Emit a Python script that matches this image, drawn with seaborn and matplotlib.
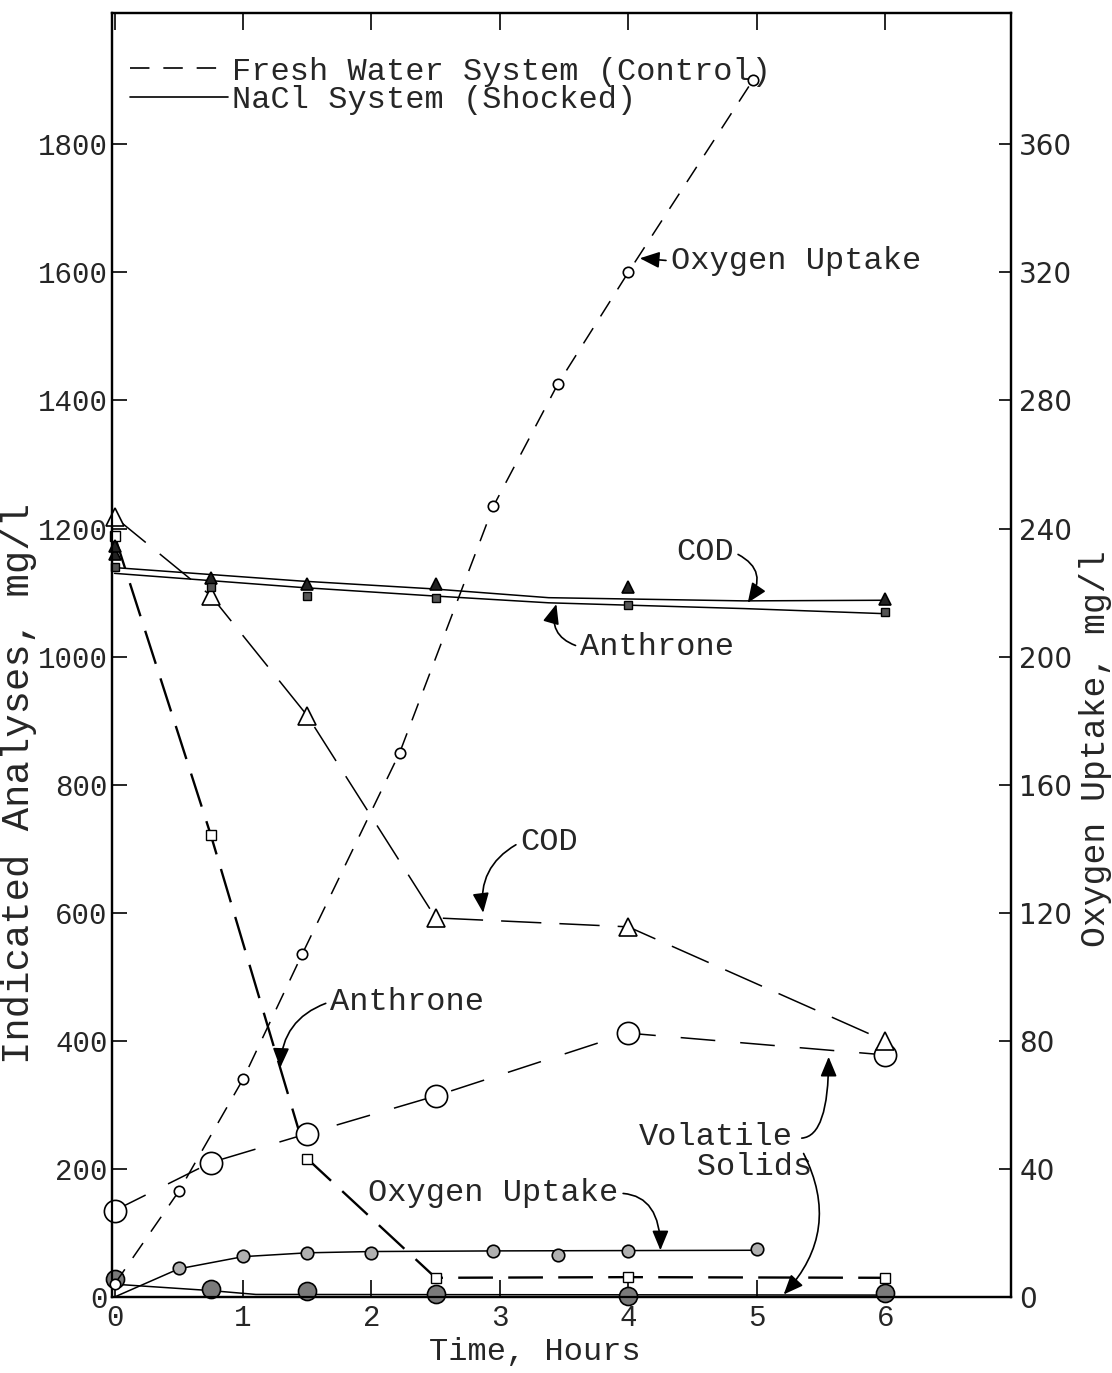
import matplotlib
matplotlib.use("Agg")
import matplotlib.pyplot as plt
from matplotlib.lines import Line2D
import seaborn as sns

# ---------------- data ----------------
x_ticks = [0, 1, 2, 3, 4, 5, 6]
left_ticks = [0, 200, 400, 600, 800, 1000, 1200, 1400, 1600, 1800]
right_ticks = [0, 40, 80, 120, 160, 200, 240, 280, 320, 360]

# Fresh water system (control) -- dashed lines, open markers
fw_o2_t = [0.0, 0.5, 1.0, 1.46, 2.22, 2.95, 3.45, 4.0, 4.97]
fw_o2 = [4, 33, 68, 107, 170, 247, 285, 320, 380]          # right axis, mg/l
fw_cod_t = [0.0, 0.75, 1.5, 2.5, 4.0, 6.0]
fw_cod = [1218, 1095, 908, 592, 578, 400]
fw_anth_t = [0.0, 0.75, 1.5, 2.5, 4.0, 6.0]
fw_anth = [1189, 721, 216, 30, 31, 30]
fw_vs_t = [0.0, 0.75, 1.5, 2.5, 4.0, 6.0]
fw_vs = [135, 210, 255, 314, 412, 378]

# NaCl system (shocked) -- solid lines, filled markers
nacl_cod_t = [0.0, 0.0, 0.75, 1.5, 2.5, 4.0, 6.0]
nacl_cod = [1160, 1172, 1123, 1114, 1114, 1108, 1090]
nacl_cod_fit_t = [0.0, 1.45, 2.46, 3.38, 4.9, 6.0]
nacl_cod_fit = [1139, 1118, 1106, 1092, 1087, 1088]
nacl_anth_t = [0.0, 0.75, 1.5, 2.5, 4.0, 6.0]
nacl_anth = [1140, 1109, 1095, 1092, 1080, 1069]
nacl_anth_fit_t = [0.0, 1.45, 2.46, 3.38, 4.9, 6.0]
nacl_anth_fit = [1130, 1108, 1095, 1084, 1075, 1067]
nacl_o2_t = [0.5, 1.0, 1.5, 2.0, 2.95, 3.45, 4.0, 5.0]
nacl_o2 = [9.0, 12.7, 13.8, 13.8, 14.5, 13.2, 14.5, 14.9]   # right axis
nacl_o2_fit_t = [0.0, 0.5, 1.0, 1.5, 2.0, 3.0, 4.0, 5.0]
nacl_o2_fit = [0.0, 8.8, 12.6, 13.8, 14.2, 14.4, 14.5, 14.6]
nacl_vs_t = [0.0, 0.75, 1.5, 2.5, 4.0, 6.0]
nacl_vs = [28, 12, 10, 5, 2, 6]
nacl_vs_fit_t = [0.0, 0.75, 1.1, 6.0]
nacl_vs_fit = [20, 10, 4, 3]

# ---------------- style ----------------
sns.set_style("ticks")
MONO = ["Liberation Mono", "DejaVu Sans Mono"]
plt.rcParams["font.family"] = MONO
plt.rcParams["lines.scale_dashes"] = False
plt.rcParams["axes.linewidth"] = 1.6

fig = plt.figure(figsize=(11.12, 13.73), dpi=100)
fig.patch.set_facecolor("white")
ax = fig.add_axes([112 / 1112, 1 - 1297 / 1373, 899 / 1112, 1284 / 1373])
ax2 = ax.twinx()


def draw_line(axis, t, v, dash, lw=1.1):
    sns.lineplot(x=t, y=v, ax=axis, color="black", linewidth=lw,
                 linestyle=dash, estimator=None, sort=False, zorder=2)


def draw_marks(axis, t, v, marker, ms, fc, ew=1.2):
    sns.lineplot(x=t, y=v, ax=axis, color="black", linestyle="none",
                 marker=marker, markersize=ms, markerfacecolor=fc,
                 markeredgecolor="black", markeredgewidth=ew,
                 estimator=None, sort=False, clip_on=False, zorder=4)


# fresh water (dashed)
draw_line(ax, fw_cod_t, fw_cod, (0, (29, 13)))
draw_line(ax, fw_anth_t, fw_anth, (0, (25, 11)), lw=1.7)
draw_line(ax, fw_vs_t, fw_vs, (0, (25, 18)))
draw_line(ax2, fw_o2_t, fw_o2, (0, (13, 10)))
# NaCl (solid)
draw_line(ax, nacl_cod_fit_t, nacl_cod_fit, "-")
draw_line(ax, nacl_anth_fit_t, nacl_anth_fit, "-")
draw_line(ax, nacl_vs_fit_t, nacl_vs_fit, "-")
draw_line(ax2, nacl_o2_fit_t, nacl_o2_fit, "-")

# markers
draw_marks(ax, fw_vs_t, fw_vs, "o", 16, "white")
draw_marks(ax, fw_cod_t, fw_cod, "^", 13, "white")
draw_marks(ax, fw_anth_t, fw_anth, "s", 6.5, "white", ew=1.0)
draw_marks(ax, nacl_vs_t, nacl_vs, "o", 13, "#7a7a7a")
draw_marks(ax, nacl_cod_t, nacl_cod, "^", 9, "#222222")
draw_marks(ax, nacl_anth_t, nacl_anth, "s", 6, "#555555", ew=1.0)
draw_marks(ax2, fw_o2_t, fw_o2, "o", 7.5, "white")
draw_marks(ax2, nacl_o2_t, nacl_o2, "o", 9, "#b0b0b0")

# ---------------- axes ----------------
ax.set_xlim(-0.02, 6.98)
ax.set_ylim(0, 2005)
ax2.set_ylim(0, 401)
ax.set_xticks(x_ticks)
ax.set_yticks(left_ticks)
ax2.set_yticks(right_ticks)
ax.tick_params(axis="y", direction="in", length=11, width=1.4, pad=3, labelsize=21)
ax.tick_params(axis="x", direction="in", length=12, width=1.4, pad=5, labelsize=21,
               top=True)
ax2.tick_params(axis="y", direction="in", length=9, width=1.4, pad=6, labelsize=20)
for lbl in ax2.get_yticklabels():
    lbl.set_fontfamily(["DejaVu Sans"])
for a in (ax, ax2):
    for s in a.spines.values():
        s.set_visible(True)
        s.set_linewidth(1.6)
        s.set_color("black")

ax.set_xlabel("Time, Hours", fontsize=23)
ax.xaxis.label.set_verticalalignment("center")
ax.xaxis.set_label_coords(0.47, -0.043)
ax.set_ylabel("Indicated Analyses, mg/l", fontsize=28)
ax.yaxis.set_label_coords(-0.083, 0.40)
ax2.set_ylabel("Oxygen Uptake, mg/l", fontsize=25)
ax2.yaxis.set_label_coords(1.076, 0.427)

# ---------------- legend ----------------
handles = [Line2D([], [], color="black", lw=1.2, linestyle=(0, (14, 10))),
           Line2D([], [], color="black", lw=1.2, linestyle="-")]
ax.legend(handles, ["Fresh Water System (Control)", "NaCl System (Shocked)"],
          loc="upper left", bbox_to_anchor=(0.02, 0.966), frameon=False,
          fontsize=23, handlelength=3.06, handletextpad=0.12, borderpad=0,
          borderaxespad=0, labelspacing=-0.05)

# ---------------- annotations ----------------
AFS = 23
arrow = dict(arrowstyle="-|>,head_length=0.6,head_width=0.25", color="black",
             lw=1.2, mutation_scale=20, shrinkA=1, shrinkB=0)

ax.annotate("Oxygen Uptake", xy=(4.09, 1622), xytext=(4.33, 1618),
            fontsize=AFS, ha="left", va="center",
            arrowprops=dict(arrow, relpos=(0, 0.5)))
ax.annotate("COD", xy=(4.93, 1084), xytext=(4.37, 1163),
            fontsize=AFS, ha="left", va="center",
            arrowprops=dict(arrow, relpos=(1, 0.5), connectionstyle="arc3,rad=-0.6"))
ax.annotate("Anthrone", xy=(3.44, 1082), xytext=(3.625, 1015),
            fontsize=AFS, ha="left", va="center",
            arrowprops=dict(arrow, relpos=(0, 0.5), connectionstyle="arc3,rad=-0.5"))
ax.annotate("COD", xy=(2.87, 600), xytext=(3.16, 710),
            fontsize=AFS, ha="left", va="center",
            arrowprops=dict(arrow, relpos=(0, 0.5), connectionstyle="arc3,rad=0.35"))
ax.annotate("Anthrone", xy=(1.29, 358), xytext=(1.68, 461),
            fontsize=AFS, ha="left", va="center",
            arrowprops=dict(arrow, relpos=(0, 0.5), connectionstyle="arc3,rad=0.35"))
ax.text(4.08, 226, "Volatile\n   Solids", fontsize=AFS, ha="left", va="center",
        multialignment="left", linespacing=1.0)
ax.annotate("", xy=(5.56, 375), xytext=(5.34, 248),
            arrowprops=dict(arrow, connectionstyle="angle3,angleA=0,angleB=90"))
ax.annotate("", xy=(5.21, 4), xytext=(5.36, 226),
            arrowprops=dict(arrow, connectionstyle="arc3,rad=-0.35"))
ax.annotate("Oxygen Uptake", xy=(4.25, 73), xytext=(1.975, 162),
            fontsize=AFS, ha="left", va="center",
            arrowprops=dict(arrow, relpos=(1, 0.5),
                            connectionstyle="angle3,angleA=0,angleB=90"))

fig.savefig("out.png", dpi=100, facecolor="white")
